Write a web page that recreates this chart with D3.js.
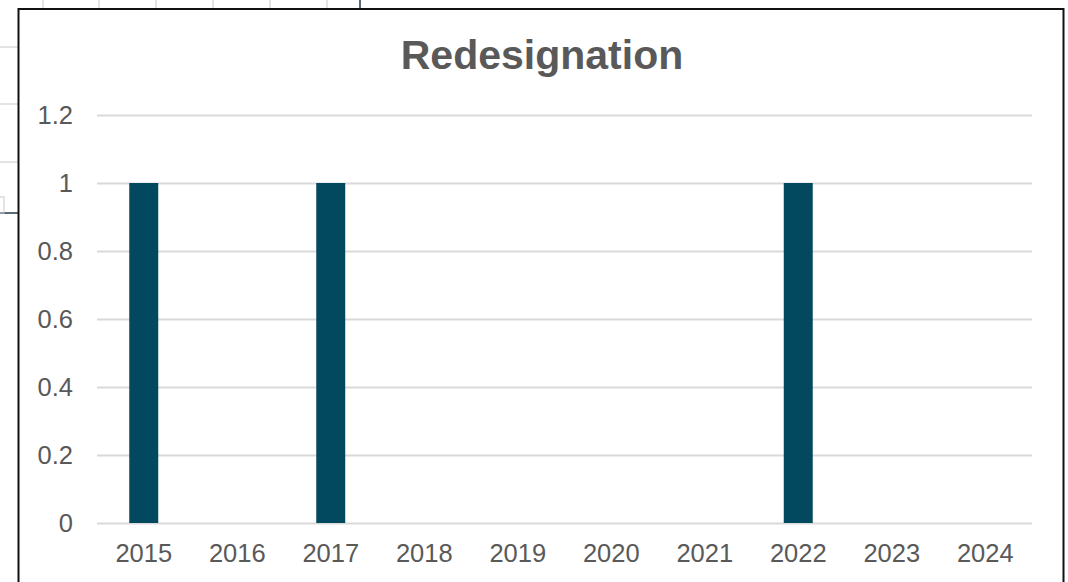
<!DOCTYPE html>
<html>
<head>
<meta charset="utf-8">
<script src="https://cdn.jsdelivr.net/npm/d3@7"></script>
<style>
  body { margin: 0; background: #fff; }
  text { font-family: "Liberation Sans", Arial, sans-serif; }
</style>
</head>
<body>
<script>
var years = ["2015", "2016", "2017", "2018", "2019", "2020", "2021", "2022", "2023", "2024"],
	counts = [1, 0, 1, 0, 0, 0, 0, 1, 0, 0],
	yTicks = [0, 0.2, 0.4, 0.6, 0.8, 1, 1.2],
	title = "Redesignation";

var width = 1068,
	height = 582,
	lPad = 97,
	rPad = 36,
	tPad = 115,
	bPad = 59,
	barColor = "#02495f",
	gridColor = "#d9d9d9",
	textColor = "#595959";

var svg = d3.select("body")
	.append("svg")
	.attr("width", width)
	.attr("height", height);

// spreadsheet cells peeking out behind the chart
var cellX = [43, 99, 156, 213, 270, 327],
	cellY = [47, 104, 162];
cellX.forEach(function(x) {
	svg.append("line")
		.attr("x1", x).attr("x2", x)
		.attr("y1", 0).attr("y2", 9)
		.style("stroke", "#c8c8c8").style("stroke-width", 1);
});
cellY.forEach(function(y) {
	svg.append("line")
		.attr("x1", 0).attr("x2", 18)
		.attr("y1", y).attr("y2", y)
		.style("stroke", "#c8c8c8").style("stroke-width", 1);
});
svg.append("line")
	.attr("x1", 360).attr("x2", 360).attr("y1", 0).attr("y2", 9)
	.style("stroke", "#1f3a4a").style("stroke-width", 1.5);
svg.append("line")
	.attr("x1", 0).attr("x2", 18).attr("y1", 213).attr("y2", 213)
	.style("stroke", "#1f3a4a").style("stroke-width", 1.5);
svg.append("rect")
	.attr("x", -1).attr("y", 197).attr("width", 5).attr("height", 16)
	.style("fill", "none").style("stroke", "#c8c8c8");

// chart frame
svg.append("rect")
	.attr("x", 18.5)
	.attr("y", 9)
	.attr("width", 1045)
	.attr("height", 600)
	.style("fill", "#fff")
	.style("stroke", "#111")
	.style("stroke-width", 2);

var xScale = d3.scaleBand()
	.domain(years)
	.range([lPad, width - rPad])
	.paddingInner(0.69)
	.paddingOuter(0.345);

var yScale = d3.scaleLinear()
	.domain([0, 1.2])
	.range([height - bPad, tPad]);

// gridlines
svg.append("g")
	.selectAll("line")
	.data(yTicks)
	.enter()
	.append("line")
	.attr("x1", lPad)
	.attr("x2", width - rPad)
	.attr("y1", function(d) { return Math.round(yScale(d)) + 0.5; })
	.attr("y2", function(d) { return Math.round(yScale(d)) + 0.5; })
	.style("stroke", gridColor)
	.style("stroke-width", 2);

// bars
svg.append("g")
	.selectAll("rect")
	.data(counts)
	.enter()
	.append("rect")
	.attr("x", function(d, i) { return xScale(years[i]); })
	.attr("y", function(d) { return yScale(d); })
	.attr("width", xScale.bandwidth())
	.attr("height", function(d) { return yScale(0) - yScale(d); })
	.style("fill", barColor);

// y axis labels
var yAxis = d3.axisLeft(yScale)
	.tickValues(yTicks)
	.tickFormat(function(d) { return String(d); })
	.tickSize(0)
	.tickPadding(24);
var ya = svg.append("g")
	.attr("transform", "translate(" + lPad + ",0)")
	.call(yAxis);
ya.select(".domain").remove();
ya.selectAll("text")
	.style("font-size", "25.5px")
	.style("font-family", "'Liberation Sans', Arial, sans-serif")
	.attr("fill", textColor);

// x axis labels
var xAxis = d3.axisBottom(xScale)
	.tickSize(0)
	.tickPadding(21);
var xa = svg.append("g")
	.attr("transform", "translate(0," + (height - bPad) + ")")
	.call(xAxis);
xa.select(".domain").remove();
xa.selectAll("text")
	.style("font-size", "25.5px")
	.style("font-family", "'Liberation Sans', Arial, sans-serif")
	.attr("fill", textColor);

// title
svg.append("text")
	.attr("x", 542)
	.attr("y", 69)
	.attr("text-anchor", "middle")
	.style("font-size", "41px")
	.style("font-weight", "bold")
	.style("fill", textColor)
	.text(title);
</script>
</body>
</html>
